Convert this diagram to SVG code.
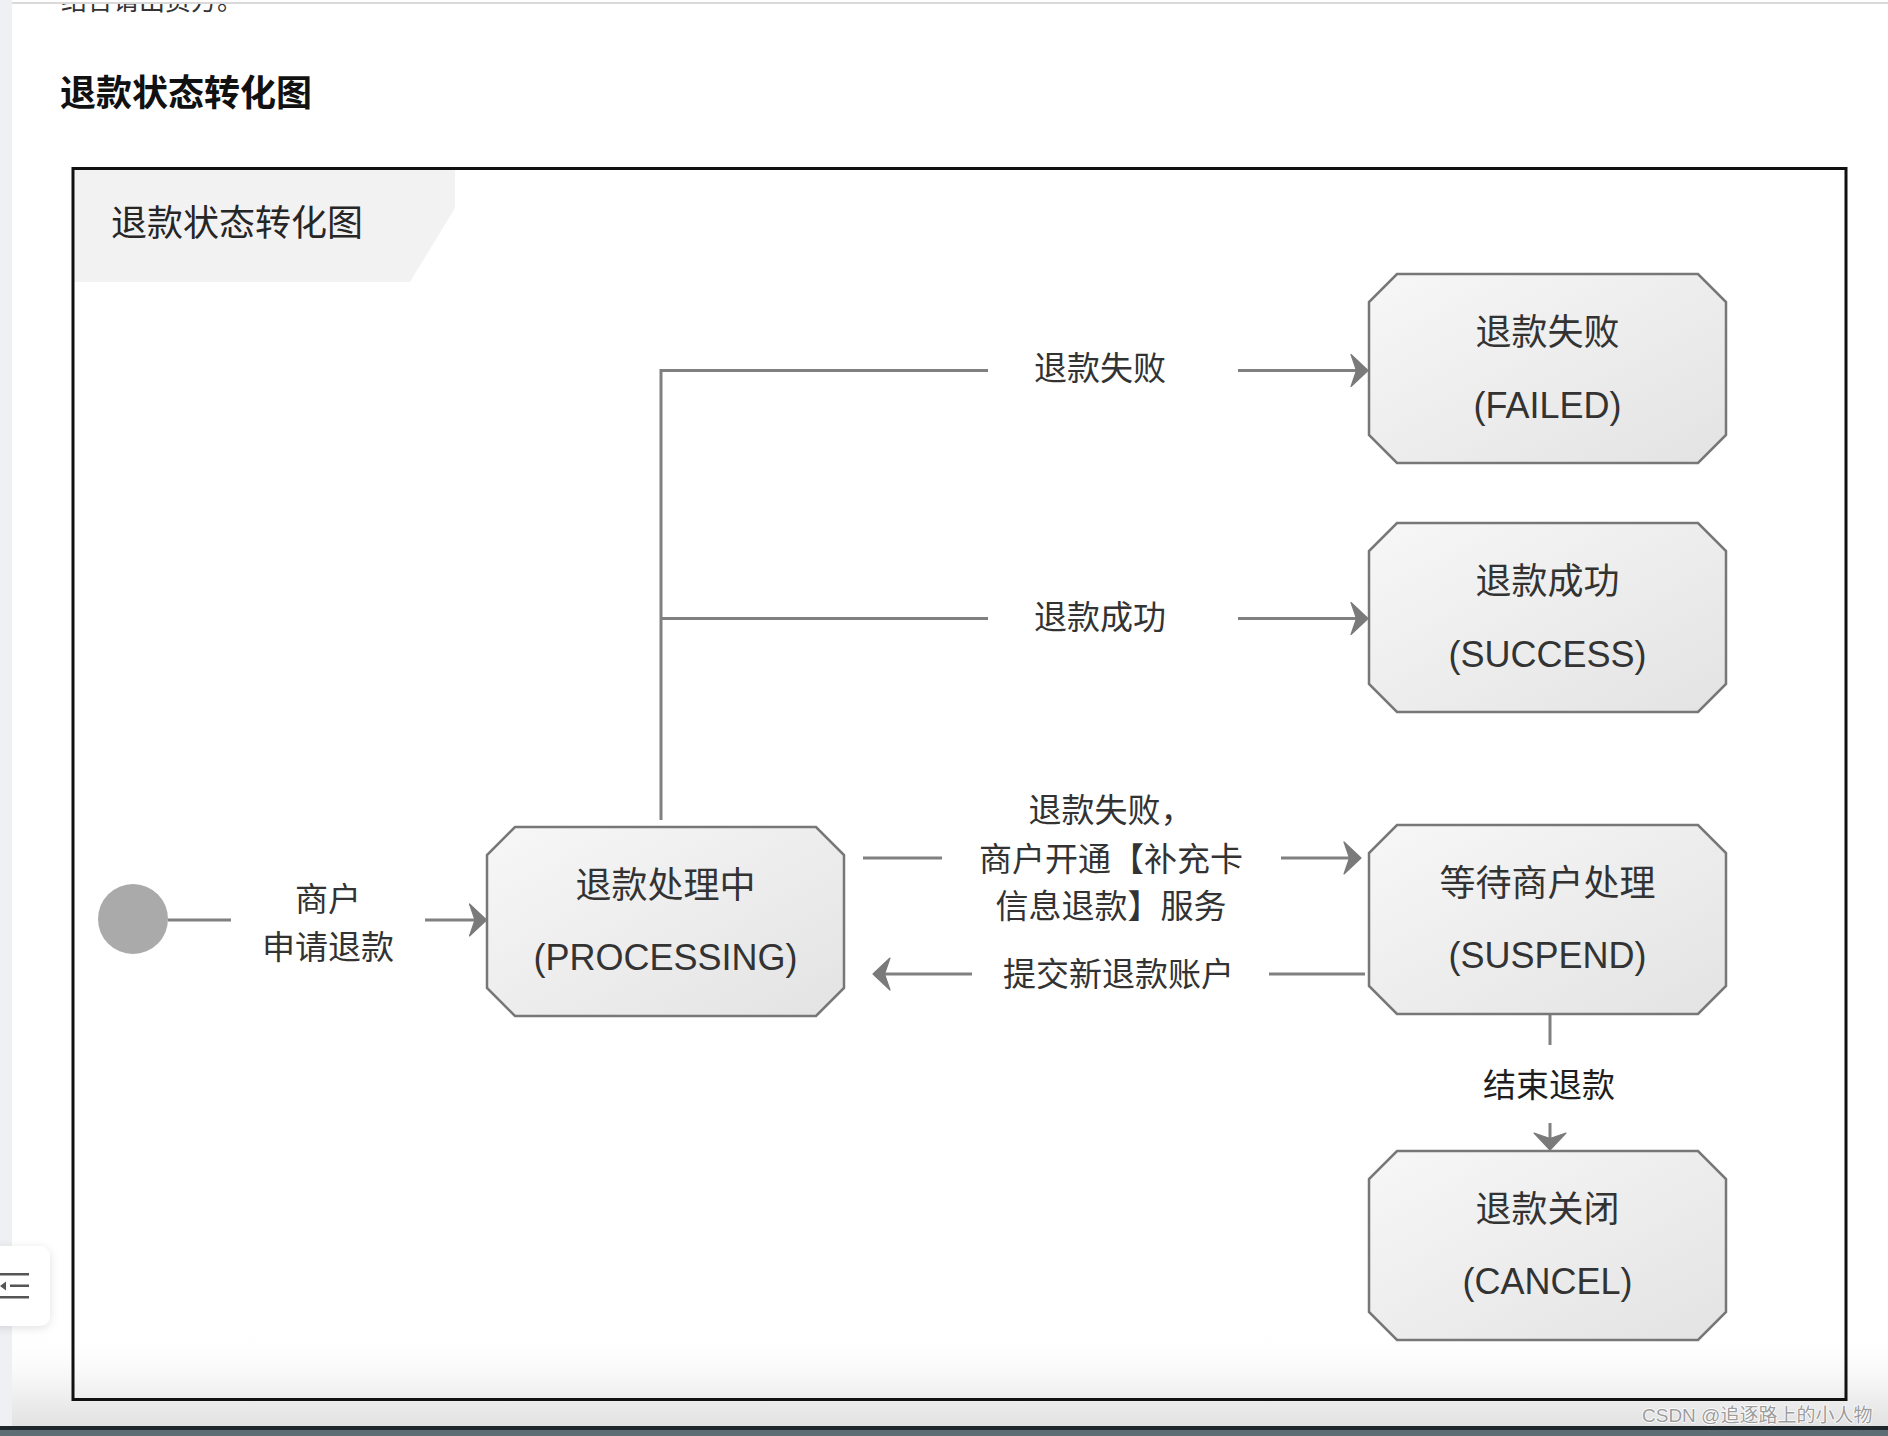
<svg xmlns="http://www.w3.org/2000/svg" width="1888" height="1436" viewBox="0 0 1888 1436">
<style>
  text { font-family: 'Liberation Sans', 'Noto Sans CJK SC', sans-serif; }
  .node { fill: url(#nodeGrad); stroke: #777; stroke-width: 2.5; }
  .nt { font-size: 36px; fill: #333; text-anchor: middle; }
  .lbl { font-size: 33px; fill: #333; text-anchor: middle; }
  .ln { stroke: #808080; stroke-width: 3; fill: none; }
  .arr { stroke: #808080; stroke-width: 3; fill: none; marker-end: url(#ah); }
</style>
<defs>
  <linearGradient id="nodeGrad" x1="0" y1="0" x2="1" y2="1">
    <stop offset="0" stop-color="#f7f7f7"/>
    <stop offset="1" stop-color="#e3e3e3"/>
  </linearGradient>
  <linearGradient id="fade" x1="0" y1="0" x2="0" y2="1">
    <stop offset="0" stop-color="#ffffff" stop-opacity="0"/>
    <stop offset="0.7" stop-color="#eeeeee" stop-opacity="1"/>
    <stop offset="1" stop-color="#e2e2e2" stop-opacity="1"/>
  </linearGradient>
  <marker id="ah" viewBox="-19 -18 21 36" markerWidth="21" markerHeight="36" refX="-3" refY="0" markerUnits="userSpaceOnUse" orient="auto">
    <path d="M0,0 L-17,-16 L-11.5,0 L-17,16 Z" fill="#7a7a7a" stroke="#7a7a7a" stroke-width="1.2" stroke-linejoin="round"/>
  </marker>
  <clipPath id="topClip"><rect x="0" y="4" width="1888" height="30"/></clipPath>
  <filter id="shadow" x="-50%" y="-50%" width="200%" height="200%">
    <feDropShadow dx="0" dy="2" stdDeviation="5" flood-color="#000" flood-opacity="0.12"/>
  </filter>
</defs>

<!-- page background -->
<rect x="0" y="0" width="1888" height="1436" fill="#ffffff"/>
<rect x="0" y="0" width="12" height="1426" fill="#eef0f3"/>
<rect x="12" y="2" width="1876" height="2" fill="#dadada"/>
<text x="61" y="9.5" font-size="26" fill="#333" clip-path="url(#topClip)">结合请出资方。</text>
<text x="60" y="106" font-size="36" font-weight="bold" fill="#111">退款状态转化图</text>

<!-- bottom fade -->
<rect x="12" y="1330" width="1876" height="96" fill="url(#fade)"/>

<!-- frame -->
<g id="frame">
  <polygon points="74.5,170 455,170 455,208 410,282 74.5,282" fill="#f2f2f2"/>
  <rect x="73" y="168.5" width="1773" height="1231" fill="none" stroke="#111" stroke-width="3"/>
  <text x="111" y="236" font-size="36" fill="#262626">退款状态转化图</text>
</g>

<!-- connectors -->
<g id="connectors">
  <line class="ln" x1="168" y1="920" x2="231" y2="920"/>
  <line class="arr" x1="425" y1="920" x2="483.5" y2="920"/>
  <text class="lbl" x="328" y="911">商户</text>
  <text class="lbl" x="328" y="959">申请退款</text>

  <polyline class="ln" points="661,820 661,370.5 988,370.5"/>
  <line class="ln" x1="661" y1="618.5" x2="988" y2="618.5"/>
  <line class="arr" x1="1238" y1="370.5" x2="1365" y2="370.5"/>
  <line class="arr" x1="1238" y1="618.5" x2="1365" y2="618.5"/>
  <text class="lbl" x="1100" y="380">退款失败</text>
  <text class="lbl" x="1100" y="629">退款成功</text>

  <line class="ln" x1="863" y1="858" x2="942" y2="858"/>
  <line class="arr" x1="1281" y1="858" x2="1358" y2="858"/>
  <text class="lbl" x="1111" y="822">退款失败，</text>
  <text class="lbl" x="1111" y="870.5">商户开通【补充卡</text>
  <text class="lbl" x="1111" y="918">信息退款】服务</text>

  <line class="ln" x1="1365" y1="974" x2="1269" y2="974"/>
  <line class="arr" x1="972" y1="974" x2="876" y2="974"/>
  <text class="lbl" x="1118.5" y="985.5">提交新退款账户</text>

  <line class="ln" x1="1550" y1="1014" x2="1550" y2="1045"/>
  <line class="arr" x1="1550" y1="1123" x2="1550" y2="1147"/>
  <text class="lbl" x="1549" y="1097" style="fill:#1e1e1e">结束退款</text>
</g>

<!-- nodes -->
<g id="start">
  <circle cx="133" cy="919" r="35" fill="#aaaaaa"/>
</g>

<g id="processing">
  <polygon class="node" points="515,827 816,827 844,855 844,988 816,1016 515,1016 487,988 487,855"/>
  <text class="nt" x="665.5" y="898">退款处理中</text>
  <text class="nt" x="665.5" y="970">(PROCESSING)</text>
</g>

<g id="failed">
  <polygon class="node" points="1397,274 1698,274 1726,302 1726,435 1698,463 1397,463 1369,435 1369,302"/>
  <text class="nt" x="1547.5" y="345">退款失败</text>
  <text class="nt" x="1547.5" y="418">(FAILED)</text>
</g>

<g id="success">
  <polygon class="node" points="1397,523 1698,523 1726,551 1726,684 1698,712 1397,712 1369,684 1369,551"/>
  <text class="nt" x="1547.5" y="594">退款成功</text>
  <text class="nt" x="1547.5" y="667">(SUCCESS)</text>
</g>

<g id="suspend">
  <polygon class="node" points="1397,825 1698,825 1726,853 1726,986 1698,1014 1397,1014 1369,986 1369,853"/>
  <text class="nt" x="1547.5" y="896">等待商户处理</text>
  <text class="nt" x="1547.5" y="968">(SUSPEND)</text>
</g>

<g id="cancel">
  <polygon class="node" points="1397,1151 1698,1151 1726,1179 1726,1312 1698,1340 1397,1340 1369,1312 1369,1179"/>
  <text class="nt" x="1547.5" y="1222">退款关闭</text>
  <text class="nt" x="1547.5" y="1294">(CANCEL)</text>
</g>

<!-- floating side button -->
<g id="side-button">
  <rect x="-12" y="1246" width="62" height="80" rx="10" fill="#ffffff" filter="url(#shadow)"/>
  <rect x="0" y="1273" width="29" height="2.5" fill="#555"/>
  <rect x="10" y="1284.5" width="19" height="2.5" fill="#555"/>
  <rect x="0" y="1296" width="29" height="2.5" fill="#555"/>
  <polygon points="0,1286 6,1281.5 6,1290.5" fill="#555"/>
</g>

<!-- watermark -->
<text x="1642" y="1422" font-size="19" fill="#9c9c9c" stroke="#ffffff" stroke-width="1.5" paint-order="stroke">CSDN @追逐路上的小人物</text>

<!-- bottom dark strip -->
<rect x="0" y="1426" width="1888" height="4" fill="#1d272c"/>
<rect x="0" y="1430" width="1888" height="6" fill="#5e6c74"/>
</svg>
